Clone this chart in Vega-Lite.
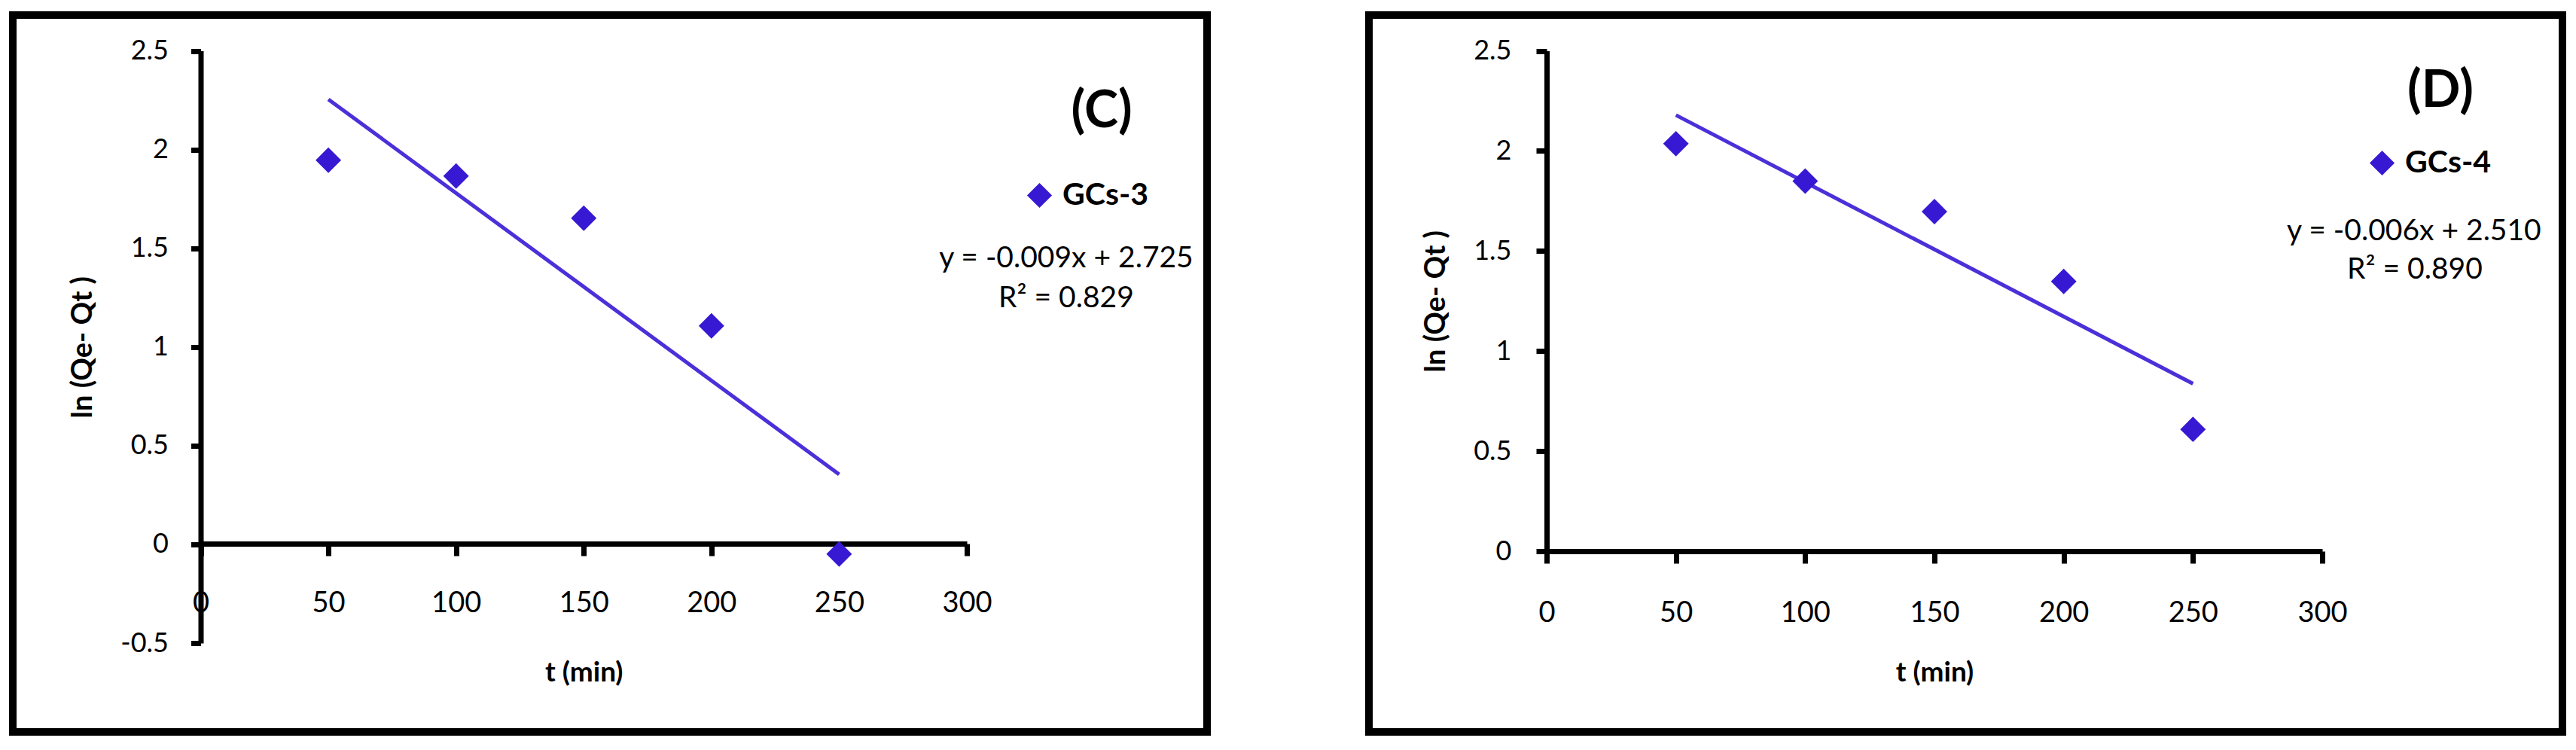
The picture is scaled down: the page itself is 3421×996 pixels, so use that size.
{
  "$schema": "https://vega.github.io/schema/vega-lite/v6.json",
  "background": "white",
  "padding": {"left": 12, "top": 15, "right": 0, "bottom": 0},
  "autosize": {"type": "pad"},
  "spacing": 215,
  "bounds": "flush",
  "resolve": {"scale": {"color": "independent"}, "legend": {"color": "independent"}},
  "config": {
    "font": "Lato",
    "view": {"stroke": "black", "strokeWidth": 10},
    "axis": {
      "grid": false,
      "domainColor": "black",
      "domainWidth": 7,
      "tickColor": "black",
      "tickWidth": 7,
      "labelColor": "black",
      "titleColor": "black",
      "labelFont": "Lato",
      "titleFont": "Lato",
      "titleFontWeight": "bold",
      "labelFlush": false,
      "labelOverlap": false
    },
    "text": {"font": "Lato", "color": "black", "align": "center", "baseline": "middle"}
  },
  "datasets": {
    "c": [
      {"t_min": 50, "ln_qe_qt": 1.946, "series": "GCs-3"},
      {"t_min": 100, "ln_qe_qt": 1.866, "series": "GCs-3"},
      {"t_min": 150, "ln_qe_qt": 1.652, "series": "GCs-3"},
      {"t_min": 200, "ln_qe_qt": 1.107, "series": "GCs-3"},
      {"t_min": 250, "ln_qe_qt": -0.049, "series": "GCs-3"}
    ],
    "d": [
      {"t_min": 50, "ln_qe_qt": 2.036, "series": "GCs-4"},
      {"t_min": 100, "ln_qe_qt": 1.849, "series": "GCs-4"},
      {"t_min": 150, "ln_qe_qt": 1.697, "series": "GCs-4"},
      {"t_min": 200, "ln_qe_qt": 1.348, "series": "GCs-4"},
      {"t_min": 250, "ln_qe_qt": 0.609, "series": "GCs-4"}
    ]
  },
  "hconcat": [
    {
      "width": 1586,
      "height": 952,
      "data": {"name": "c"},
      "layer": [
        {
          "transform": [{"regression": "ln_qe_qt", "on": "t_min", "extent": [50, 250]}],
          "mark": {"type": "line", "color": "#4B30D9", "strokeWidth": 5},
          "encoding": {
            "x": {
              "field": "t_min", "type": "quantitative",
              "scale": {"domain": [0, 300], "range": [249.5, 1267], "nice": false, "zero": false},
              "axis": {"values": [0, 50, 100, 150, 200, 250, 300], "offset": -250, "domainWidth": 7, "tickWidth": 7, "tickSize": 16, "labelPadding": 44, "labelFontSize": 38, "title": "t (min)", "titleFontSize": 37, "titlePadding": 55}
            },
            "y": {
              "field": "ln_qe_qt", "type": "quantitative",
              "scale": {"domain": [-0.5, 2.5], "range": [834, 47.5], "nice": false, "zero": false},
              "axis": {"values": [-0.5, 0, 0.5, 1, 1.5, 2, 2.5], "labelExpr": "toString(datum.value)", "offset": -249.5, "domainWidth": 7, "tickWidth": 7, "tickSize": 13, "labelPadding": 30, "labelFontSize": 36, "title": "ln (Qe- Qt )", "titleFontSize": 38, "titlePadding": 30}
            }
          }
        },
        {
          "mark": {"type": "point", "shape": "diamond", "filled": true, "size": 1150, "opacity": 1},
          "encoding": {
            "x": {"field": "t_min", "type": "quantitative"},
            "y": {"field": "ln_qe_qt", "type": "quantitative"},
            "color": {
              "field": "series", "type": "nominal",
              "scale": {"range": ["#3719D3"]},
              "legend": {"orient": "none", "legendX": 1343, "legendY": 219, "title": null, "symbolType": "diamond", "symbolSize": 1100, "symbolStrokeWidth": 0, "symbolOpacity": 1, "labelFontSize": 41, "labelFontWeight": "bold", "labelFont": "Lato", "labelColor": "black", "labelOffset": 10, "padding": 0}
            }
          }
        },
        {
          "data": {"values": [{"label": "(C)"}]},
          "mark": {"type": "text", "fontSize": 68, "fontWeight": "bold"},
          "encoding": {"x": {"datum": 352.8, "type": "quantitative"}, "y": {"datum": 2.189, "type": "quantitative"}, "text": {"field": "label"}}
        },
        {
          "data": {"values": [{"label": "y = -0.009x + 2.725"}]},
          "mark": {"type": "text", "fontSize": 39},
          "encoding": {"x": {"datum": 338.9, "type": "quantitative"}, "y": {"datum": 1.449, "type": "quantitative"}, "text": {"field": "label"}}
        },
        {
          "data": {"values": [{"label": "R² = 0.829"}]},
          "mark": {"type": "text", "fontSize": 39},
          "encoding": {"x": {"datum": 338.9, "type": "quantitative"}, "y": {"datum": 1.247, "type": "quantitative"}, "text": {"field": "label"}}
        }
      ]
    },
    {
      "width": 1585,
      "height": 952,
      "data": {"name": "d"},
      "layer": [
        {
          "transform": [{"regression": "ln_qe_qt", "on": "t_min", "extent": [50, 250]}],
          "mark": {"type": "line", "color": "#4B30D9", "strokeWidth": 5},
          "encoding": {
            "x": {
              "field": "t_min", "type": "quantitative",
              "scale": {"domain": [0, 300], "range": [236, 1266], "nice": false, "zero": false},
              "axis": {"values": [0, 50, 100, 150, 200, 250, 300], "offset": -240, "domainWidth": 7, "tickWidth": 7, "tickSize": 16, "labelPadding": 47, "labelFontSize": 38, "title": "t (min)", "titleFontSize": 37, "titlePadding": 42}
            },
            "y": {
              "field": "ln_qe_qt", "type": "quantitative",
              "scale": {"domain": [0, 2.5], "range": [712, 47.5], "nice": false, "zero": false},
              "axis": {"values": [0, 0.5, 1, 1.5, 2, 2.5], "labelExpr": "toString(datum.value)", "offset": -236, "domainWidth": 7, "tickWidth": 7, "tickSize": 14, "labelPadding": 33, "labelFontSize": 36, "title": "ln (Qe- Qt )", "titleFontSize": 38, "titlePadding": 30}
            }
          }
        },
        {
          "mark": {"type": "point", "shape": "diamond", "filled": true, "size": 1150, "opacity": 1},
          "encoding": {
            "x": {"field": "t_min", "type": "quantitative"},
            "y": {"field": "ln_qe_qt", "type": "quantitative"},
            "color": {
              "field": "series", "type": "nominal",
              "scale": {"range": ["#3719D3"]},
              "legend": {"orient": "none", "legendX": 1325, "legendY": 176, "title": null, "symbolType": "diamond", "symbolSize": 1100, "symbolStrokeWidth": 0, "symbolOpacity": 1, "labelFontSize": 41, "labelFontWeight": "bold", "labelFont": "Lato", "labelColor": "black", "labelOffset": 10, "padding": 0}
            }
          }
        },
        {
          "data": {"values": [{"label": "(D)"}]},
          "mark": {"type": "text", "fontSize": 68, "fontWeight": "bold"},
          "encoding": {"x": {"datum": 345.7, "type": "quantitative"}, "y": {"datum": 2.295, "type": "quantitative"}, "text": {"field": "label"}}
        },
        {
          "data": {"values": [{"label": "y = -0.006x + 2.510"}]},
          "mark": {"type": "text", "fontSize": 39},
          "encoding": {"x": {"datum": 335.5, "type": "quantitative"}, "y": {"datum": 1.599, "type": "quantitative"}, "text": {"field": "label"}}
        },
        {
          "data": {"values": [{"label": "R² = 0.890"}]},
          "mark": {"type": "text", "fontSize": 39},
          "encoding": {"x": {"datum": 335.8, "type": "quantitative"}, "y": {"datum": 1.407, "type": "quantitative"}, "text": {"field": "label"}}
        }
      ]
    }
  ]
}
